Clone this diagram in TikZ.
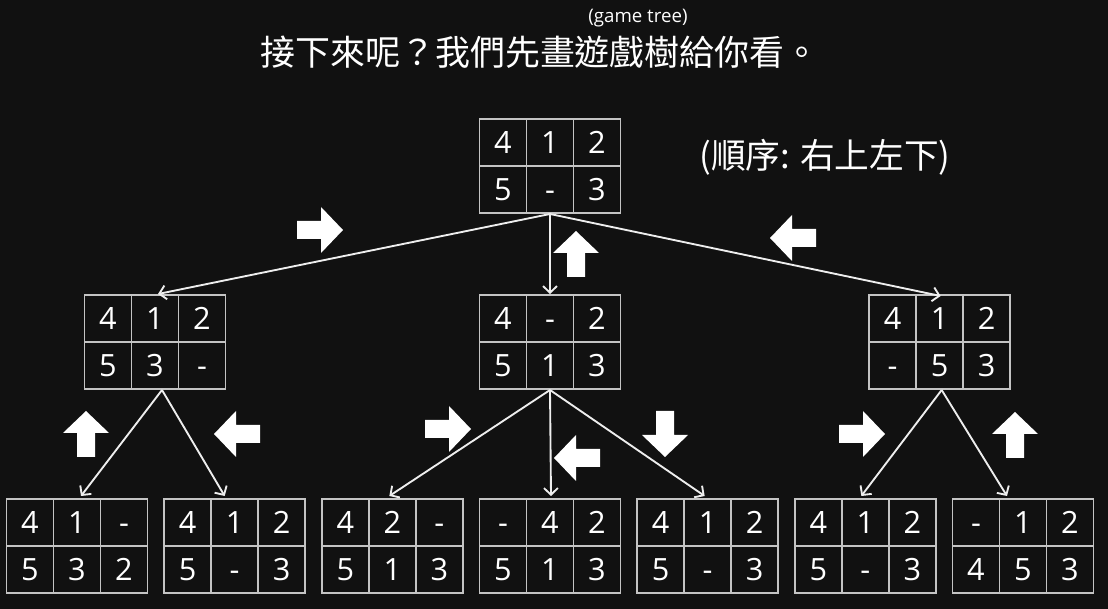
\documentclass[tikz,border=0pt]{standalone}
\usepackage{fontspec}
\setmainfont{Open Sans}
\newfontfamily\cjkfont{Noto Sans CJK TC}
\usetikzlibrary{arrows.meta, positioning, matrix, calc}
\definecolor{slidebg}{HTML}{111111}
\definecolor{gridgray}{HTML}{C4C4C4}
\definecolor{linkwhite}{HTML}{EEEEEE}

\begin{document}
\begin{tikzpicture}[
  x=0.75pt, y=-0.75pt,
  cell/.style={draw=gridgray, line width=1.1pt, minimum width=35.25pt, minimum height=35.25pt, inner sep=0pt, text height=16.5pt, text depth=0pt, anchor=center, text=white, font=\fontsize{23}{26}\selectfont},
  board/.style={matrix of nodes, inner sep=0pt, column sep=-1.1pt, row sep=-1.1pt, nodes={cell}},
  link/.style={-{Straight Barb[length=5pt, width=10.5pt]}, line width=1.4pt, color=linkwhite},
  caption/.style={text=white, inner sep=0pt},
  fatarrow/.pic={\fill[white] (-23,-9) -- (1,-9) -- (1,-23) -- (23,0) -- (1,23) -- (1,9) -- (-23,9) -- cycle;}
]
  \fill[slidebg] (0,0) rectangle (1108,609);

  % titles
  \node[caption, font=\cjkfont\fontsize{26.2}{31}\selectfont] (title) at (540,52) {接下來呢？我們先畫遊戲樹給你看。};
  \node[caption, font=\fontsize{14}{16}\selectfont] (gametree) at (638,18) {(game tree)};
  \node[caption, font=\cjkfont\fontsize{26}{30}\selectfont] (order) at (825,157) {(順序: 右上左下)};

  % boards
  \matrix (root) at (550,166) [board] {4 & 1 & 2\\ 5 & - & 3\\};

  \matrix (mid) [board, below=60pt of root] {4 & - & 2\\ 5 & 1 & 3\\};
  \matrix (left) [board, left=189pt of mid] {4 & 1 & 2\\ 5 & 3 & -\\};
  \matrix (right) [board, right=185pt of mid] {4 & 1 & 2\\ - & 5 & 3\\};

  \matrix (d4) [board, below=81pt of mid] {- & 4 & 2\\ 5 & 1 & 3\\};
  \matrix (d3) [board, left=11pt of d4] {4 & 2 & -\\ 5 & 1 & 3\\};
  \matrix (d2) [board, left=11pt of d3] {4 & 1 & 2\\ 5 & - & 3\\};
  \matrix (d1) [board, left=11pt of d2] {4 & 1 & -\\ 5 & 3 & 2\\};
  \matrix (d5) [board, right=11pt of d4] {4 & 1 & 2\\ 5 & - & 3\\};
  \matrix (d6) [board, right=11pt of d5] {4 & 1 & 2\\ 5 & - & 3\\};
  \matrix (d7) [board, right=11pt of d6] {- & 1 & 2\\ 4 & 5 & 3\\};

  % tree links
  \draw[link] (root.south) -- ($(left.north)+(3,0)$);
  \draw[link] (root.south) -- (mid.north);
  \draw[link] (root.south) -- ($(right.north)+(1,2)$);
  \draw[link] ($(left.south)+(7,0)$) -- ($(d1.north)+(4,-2)$);
  \draw[link] ($(left.south)+(7,0)$) -- ($(d2.north)+(-10,-2)$);
  \draw[link] (mid.south) -- ($(d3.north)+(-3,-2)$);
  \draw[link] (mid.south) -- ($(d4.north)+(1,-2)$);
  \draw[link] (mid.south) -- ($(d5.north)+(-3,-2)$);
  \draw[link] ($(right.south)+(2,0)$) -- ($(d6.north)+(-4,-2)$);
  \draw[link] ($(right.south)+(2,0)$) -- ($(d7.north)+(-16,-2)$);

  % move arrows
  \pic at (320,230) {fatarrow};
  \pic[rotate=90] at (576,254) {fatarrow};
  \pic[rotate=180] at (793,238) {fatarrow};
  \pic[rotate=90] at (86,434) {fatarrow};
  \pic[rotate=180] at (237,434) {fatarrow};
  \pic at (448,429) {fatarrow};
  \pic[rotate=180] at (577,458) {fatarrow};
  \pic[rotate=-90] at (665,434) {fatarrow};
  \pic at (862,434) {fatarrow};
  \pic[rotate=90] at (1015,435) {fatarrow};
\end{tikzpicture}
\end{document}
